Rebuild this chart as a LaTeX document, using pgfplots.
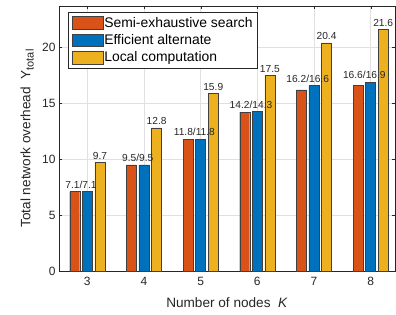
\documentclass[border=0pt]{standalone}
\usepackage{fontspec}
\setmainfont{Liberation Sans}
\usepackage{pgfplots}
\pgfplotsset{compat=1.18}
\definecolor{c1}{rgb}{0.85,0.325,0.098}
\definecolor{c2}{rgb}{0,0.447,0.741}
\definecolor{c3}{rgb}{0.929,0.694,0.125}
\definecolor{axc}{rgb}{0.15,0.15,0.15}
\begin{document}
\begin{tikzpicture}
\begin{axis}[
  name=ax,
  scale only axis, width=336pt, height=265pt,
  xmin=2.5, xmax=8.43, ymin=0, ymax=23.7,
  xtick={3,4,5,6,7,8}, ytick={0,5,10,15,20},
  grid=major, grid style={color=black!12},
  axis line style={color=axc},
  tick style={color=axc}, tick align=inside, major tick length=3.5pt,
  /pgf/number format/assume math mode=true,
  ticklabel style={font=\fontsize{12}{14}\selectfont, color=axc},
  xticklabel style={yshift=-2.5pt},
  label style={font=\fontsize{13.6}{15}\selectfont, color=axc},
  xlabel={Number of nodes\ \ \textit{K}},
  ylabel={Total network overhead\ \ Y\raisebox{-0.45ex}{\fontsize{11}{12}\selectfont total}},
  xlabel style={at={(axis description cs:0.5,-0.1208)}, anchor=center},
  ylabel style={at={(axis description cs:-0.0952,0.5)}, anchor=center},
  legend style={at={(0.0277,0.9755)}, anchor=north west, font=\fontsize{13.9}{15}\selectfont,
     draw=axc, row sep=3pt, inner xsep=3pt, inner ysep=3pt, nodes={inner sep=1.4pt}},
  legend cell align=left,
  legend image code/.code={\draw[#1] (0pt,-6.2pt) rectangle (31pt,6.2pt);},
]
\addplot[ybar, bar width=10pt, bar shift=-12.6pt, fill=c1, draw=black!75] coordinates {(3,7.1) (4,9.5) (5,11.8) (6,14.2) (7,16.2) (8,16.6)};
\addlegendentry{Semi-exhaustive search}
\addplot[ybar, bar width=10pt, bar shift=0pt, fill=c2, draw=black!75] coordinates {(3,7.1) (4,9.5) (5,11.8) (6,14.3) (7,16.6) (8,16.9)};
\addlegendentry{Efficient alternate}
\addplot[ybar, bar width=10pt, bar shift=12.6pt, fill=c3, draw=black!75] coordinates {(3,9.7) (4,12.8) (5,15.9) (6,17.5) (7,20.4) (8,21.6)};
\addlegendentry{Local computation}
\addplot[forget plot, draw=none, mark=none, nodes near coords, point meta=explicit symbolic,
  nodes near coords style={font=\fontsize{10.2}{11}\selectfont, color=axc, anchor=south, xshift=-6.3pt, inner sep=2.8pt}]
  coordinates {(3,7.1) [7.1/7.1] (4,9.5) [9.5/9.5] (5,11.8) [11.8/11.8] (6,14.3) [14.2/14.3] (7,16.6) [16.2/16.6] (8,16.9) [16.6/16.9]};
\addplot[forget plot, draw=none, mark=none, nodes near coords, point meta=explicit symbolic,
  nodes near coords style={font=\fontsize{10.2}{11}\selectfont, color=axc, anchor=south, xshift=12.6pt, inner sep=2.8pt}]
  coordinates {(3,9.7) [9.7] (4,12.8) [12.8] (5,15.9) [15.9] (6,17.5) [17.5] (7,20.4) [20.4] (8,21.6) [21.6]};
\end{axis}
\pgfresetboundingbox
\path (ax.south west) ++(-59pt,-43pt) rectangle ++(396pt,314pt);
\end{tikzpicture}
\end{document}
